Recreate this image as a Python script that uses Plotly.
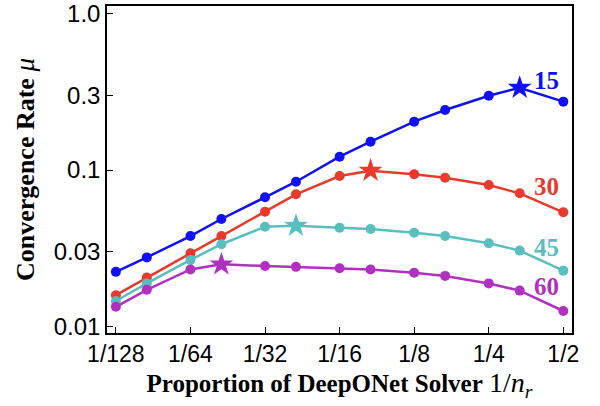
import plotly.graph_objects as go
import numpy as np

x_vals = [1/128, 1/96, 1/64, 1/48, 1/32, 1/24, 1/16, 1/12, 1/8, 1/6, 1/4, 1/3, 1/2]
tick_vals = [1/128, 1/64, 1/32, 1/16, 1/8, 1/4, 1/2]
tick_text = ["1/128", "1/64", "1/32", "1/16", "1/8", "1/4", "1/2"]
y_ticks = [0.01, 0.03, 0.1, 0.3, 1.0]
y_tick_text = ["0.01", "0.03", "0.1", "0.3", "1.0"]

mu_15 = [0.0224, 0.0277, 0.0379, 0.0487, 0.0670, 0.0842, 0.1216, 0.1516, 0.2034, 0.2414, 0.298, 0.335, 0.273]
mu_30 = [0.0159, 0.0206, 0.0294, 0.0379, 0.0542, 0.0700, 0.0916, 0.099, 0.0939, 0.0893, 0.0802, 0.0710, 0.0537]
mu_45 = [0.0146, 0.0189, 0.0267, 0.0336, 0.0435, 0.0441, 0.0428, 0.0420, 0.0398, 0.0379, 0.0341, 0.0306, 0.0228]
mu_60 = [0.0134, 0.0172, 0.0232, 0.0250, 0.0244, 0.0241, 0.0236, 0.0232, 0.0221, 0.0211, 0.0189, 0.0170, 0.0126]

series_names = ["15", "30", "45", "60"]
series = [mu_15, mu_30, mu_45, mu_60]
star_idx = [11, 7, 5, 3]
colors = ["#1010F5", "#E83A2C", "#58BEBE", "#B030C0"]
label_x = [0.428, 0.428, 0.428, 0.428]
label_y = [0.37, 0.0782, 0.0318, 0.018]

fig = go.Figure()
for name, ys, si, c in zip(series_names, series, star_idx, colors):
    symbols = ["star" if i == si else "circle" for i in range(len(ys))]
    sizes = [18 if i == si else 10 for i in range(len(ys))]
    fig.add_trace(go.Scatter(
        x=x_vals, y=ys, mode="lines+markers", name=name,
        line=dict(color=c, width=2.5),
        marker=dict(color=c, symbol=symbols, size=sizes, opacity=1, line=dict(width=0)),
        showlegend=False,
    ))

for name, lx, ly, c in zip(series_names, label_x, label_y, colors):
    fig.add_annotation(
        x=np.log10(lx), y=np.log10(ly), text=f"<b>{name}</b>", showarrow=False,
        font=dict(family="Liberation Serif, Times New Roman, serif", size=25, color=c),
        xanchor="center", yanchor="middle",
    )

fig.update_xaxes(
    type="log", range=[-2.143, -0.266],
    tickvals=tick_vals, ticktext=tick_text,
    ticks="inside", ticklen=6, tickwidth=1, tickcolor="black",
    showline=True, linecolor="black", linewidth=1.5, mirror=True,
    showgrid=False, zeroline=False, automargin="bottom", ticklabeloverflow="allow",
    tickfont=dict(family="Liberation Sans, Arial, sans-serif", size=23, color="black"),
    title=dict(
        text="<b>Proportion of DeepONet Solver</b> <span style='font-size:28px'>1/<i>n</i><sub><i>r</i></sub></span>",
        font=dict(family="Liberation Serif, Times New Roman, serif", size=25, color="black"),
        standoff=6,
    ),
)
fig.update_yaxes(
    type="log", range=[-2.040, 0.0466],
    tickvals=y_ticks, ticktext=y_tick_text,
    ticks="inside", ticklen=6, tickwidth=1, tickcolor="black",
    showline=True, linecolor="black", linewidth=1.5, mirror=True,
    showgrid=False, zeroline=False, automargin="left", ticklabeloverflow="allow",
    tickfont=dict(family="Liberation Sans, Arial, sans-serif", size=24, color="black"),
    title=dict(
        text="<b>Convergence Rate</b> <span style='font-size:27px'><i>μ</i></span>",
        font=dict(family="Liberation Serif, Times New Roman, serif", size=26, color="black"),
        standoff=12,
    ),
)
fig.update_layout(
    width=600, height=406,
    margin=dict(l=107, r=28, t=6, b=73),
    plot_bgcolor="white", paper_bgcolor="white",
)
fig.write_html("out.html", config={"displayModeBar": False},
               post_script="document.body.style.margin='0';")
